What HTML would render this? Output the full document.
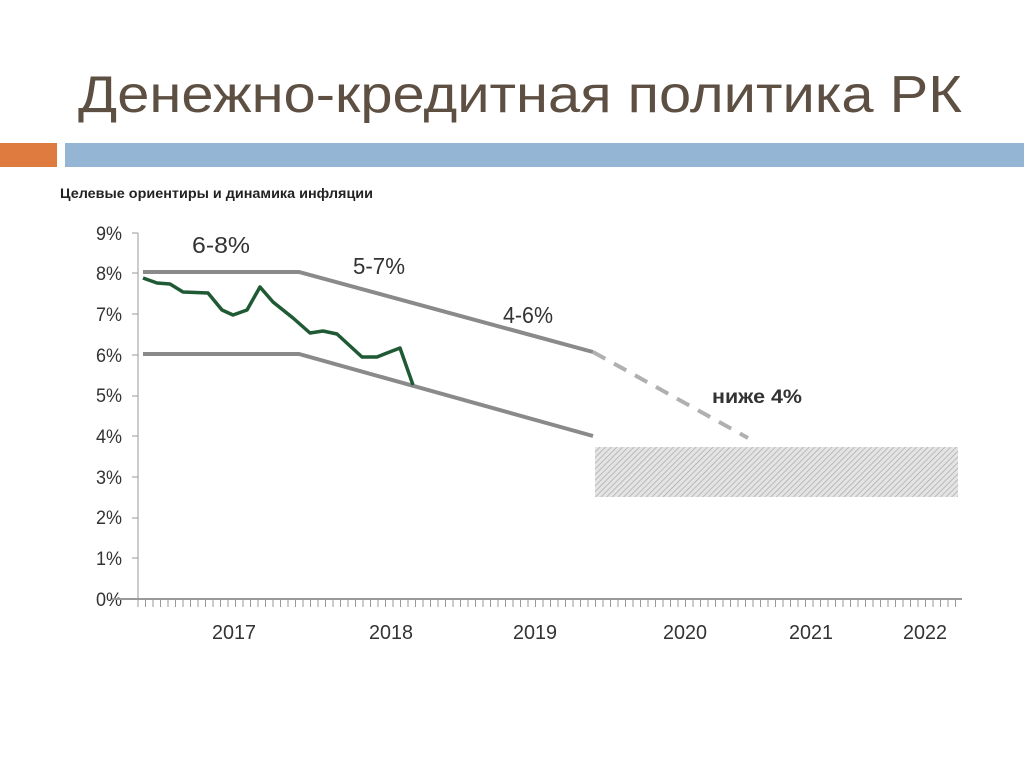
<!DOCTYPE html>
<html><head><meta charset="utf-8"><style>
body{margin:0;width:1024px;height:767px;background:#fff;overflow:hidden;font-family:"Liberation Sans",sans-serif}
</style></head><body>
<svg width="1024" height="767" xmlns="http://www.w3.org/2000/svg">
<defs>
<pattern id="h" width="4" height="4" patternUnits="userSpaceOnUse" patternTransform="rotate(45)">
<rect width="4" height="4" fill="#e4e4e4"/><line x1="0" y1="0" x2="0" y2="4" stroke="#a8a8a8" stroke-width="1.4"/></pattern>
</defs>
<text x="78" y="112" font-family="Liberation Sans, sans-serif" font-size="52" fill="#5e4f43" textLength="884" lengthAdjust="spacingAndGlyphs">Денежно-кредитная политика РК</text>
<rect x="0" y="143" width="57" height="24" fill="#e07b40"/>
<rect x="65" y="143" width="959" height="24" fill="#94b6d4"/>
<text x="60" y="198" font-size="14" font-weight="bold" fill="#222" textLength="313" lengthAdjust="spacingAndGlyphs">Целевые ориентиры и динамика инфляции</text>
<g font-size="19" fill="#333" text-anchor="end">
<text x="122" y="240" textLength="26" lengthAdjust="spacingAndGlyphs">9%</text><text x="122" y="280" textLength="26" lengthAdjust="spacingAndGlyphs">8%</text><text x="122" y="321" textLength="26" lengthAdjust="spacingAndGlyphs">7%</text><text x="122" y="362" textLength="26" lengthAdjust="spacingAndGlyphs">6%</text><text x="122" y="402" textLength="26" lengthAdjust="spacingAndGlyphs">5%</text><text x="122" y="443" textLength="26" lengthAdjust="spacingAndGlyphs">4%</text><text x="122" y="484" textLength="26" lengthAdjust="spacingAndGlyphs">3%</text><text x="122" y="524" textLength="26" lengthAdjust="spacingAndGlyphs">2%</text><text x="122" y="565" textLength="26" lengthAdjust="spacingAndGlyphs">1%</text><text x="122" y="606" textLength="26" lengthAdjust="spacingAndGlyphs">0%</text>
</g>
<g stroke="#999" stroke-width="1">
<line x1="138" y1="233" x2="138" y2="600"/>
<line x1="132" y1="233" x2="138" y2="233"/><line x1="132" y1="273" x2="138" y2="273"/><line x1="132" y1="314" x2="138" y2="314"/><line x1="132" y1="355" x2="138" y2="355"/><line x1="132" y1="396" x2="138" y2="396"/><line x1="132" y1="436" x2="138" y2="436"/><line x1="132" y1="477" x2="138" y2="477"/><line x1="132" y1="518" x2="138" y2="518"/><line x1="132" y1="558" x2="138" y2="558"/>
</g>
<line x1="112" y1="599" x2="962" y2="599" stroke="#999" stroke-width="2"/>
<path stroke="#999" stroke-width="1" d="
M138 599v8M145.5 599v8M153 599v8M160.5 599v8M168 599v8M175.5 599v8M183 599v8M190.5 599v8M198 599v8M205.5 599v8M213 599v8M220.5 599v8M228 599v8M235.5 599v8M243 599v8M250.5 599v8M258 599v8M265.5 599v8M273 599v8M280.5 599v8M288 599v8M295.5 599v8M303 599v8M310.5 599v8M318 599v8M325.5 599v8M333 599v8M340.5 599v8M348 599v8M355.5 599v8M363 599v8M370.5 599v8M378 599v8M385.5 599v8M393 599v8M400.5 599v8M408 599v8M415.5 599v8M423 599v8M430.5 599v8M438 599v8M445.5 599v8M453 599v8M460.5 599v8M468 599v8M475.5 599v8M483 599v8M490.5 599v8M498 599v8M505.5 599v8M513 599v8M520.5 599v8M528 599v8M535.5 599v8M543 599v8M550.5 599v8M558 599v8M565.5 599v8M573 599v8M580.5 599v8M588 599v8M595.5 599v8M603 599v8M610.5 599v8M618 599v8M625.5 599v8M633 599v8M640.5 599v8M648 599v8M655.5 599v8M663 599v8M670.5 599v8M678 599v8M685.5 599v8M693 599v8M700.5 599v8M708 599v8M715.5 599v8M723 599v8M730.5 599v8M738 599v8M745.5 599v8M753 599v8M760.5 599v8M768 599v8M775.5 599v8M783 599v8M790.5 599v8M798 599v8M805.5 599v8M813 599v8M820.5 599v8M828 599v8M835.5 599v8M843 599v8M850.5 599v8M858 599v8M865.5 599v8M873 599v8M880.5 599v8M888 599v8M895.5 599v8M903 599v8M910.5 599v8M918 599v8M925.5 599v8M933 599v8M940.5 599v8M948 599v8M955.5 599v8"/>
<g font-size="20" fill="#333">
<text x="212" y="639" textLength="44" lengthAdjust="spacingAndGlyphs">2017</text><text x="369" y="639" textLength="44" lengthAdjust="spacingAndGlyphs">2018</text><text x="513" y="639" textLength="44" lengthAdjust="spacingAndGlyphs">2019</text><text x="663" y="639" textLength="44" lengthAdjust="spacingAndGlyphs">2020</text><text x="789" y="639" textLength="44" lengthAdjust="spacingAndGlyphs">2021</text><text x="903" y="639" textLength="44" lengthAdjust="spacingAndGlyphs">2022</text>
</g>
<rect x="595" y="447" width="363" height="50" fill="url(#h)"/>
<polyline points="143,272 299,272 593,352" fill="none" stroke="#8a8a8a" stroke-width="4"/>
<polyline points="143,354 299,354 593,436" fill="none" stroke="#8a8a8a" stroke-width="4"/>
<line x1="593" y1="352" x2="748" y2="438" stroke="#b0b0b0" stroke-width="4" stroke-dasharray="14,10"/>
<polyline points="143,278 157,283 170,284 183,292 208,293 222,310 233,315 247,310 260,287 273,302 293,318 310,333 323,331 337,334 362,357 377,357 387,353 400,348 413,385" fill="none" stroke="#1f5a35" stroke-width="3.5" stroke-linejoin="round"/>
<g font-size="23" fill="#333">
<text x="192" y="253" textLength="58" lengthAdjust="spacingAndGlyphs">6-8%</text><text x="353" y="274" textLength="52" lengthAdjust="spacingAndGlyphs">5-7%</text><text x="503" y="323" textLength="50" lengthAdjust="spacingAndGlyphs">4-6%</text>
<text x="712" y="403" font-weight="bold" font-size="19" textLength="90" lengthAdjust="spacingAndGlyphs">ниже 4%</text>
</g>
</svg>
</body></html>
